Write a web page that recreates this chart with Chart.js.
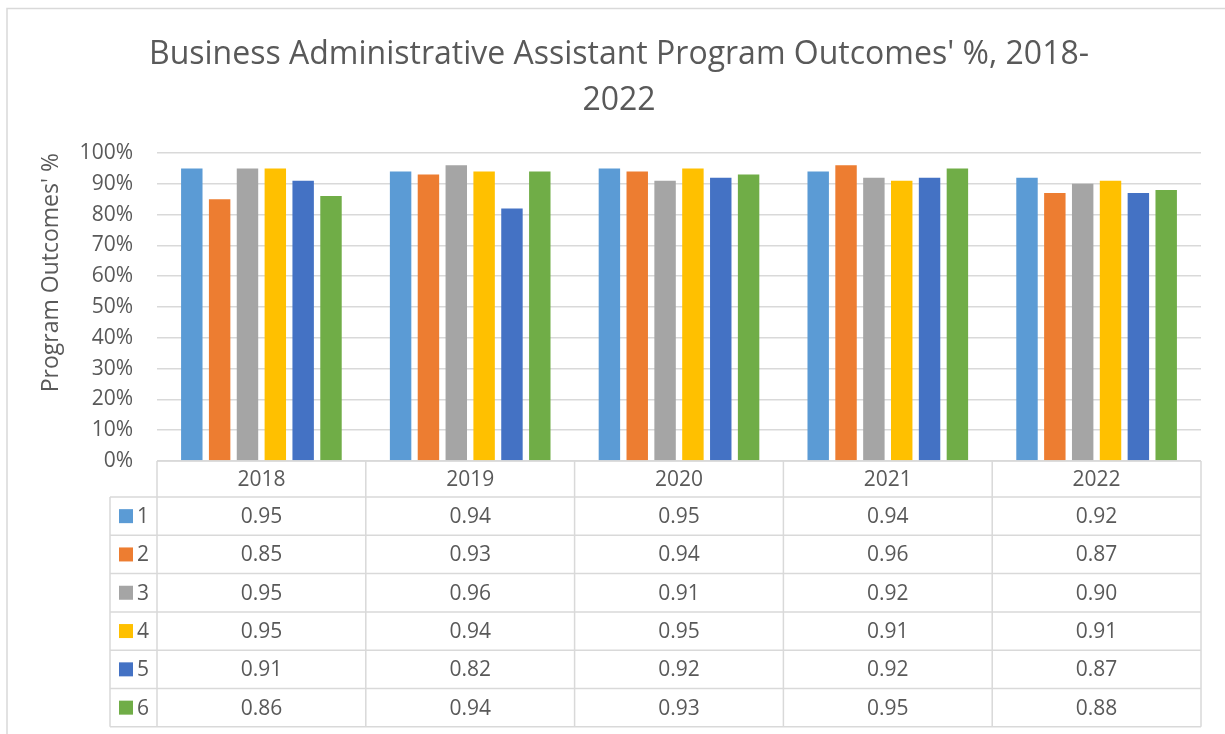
<!DOCTYPE html>
<html>
<head>
<meta charset="utf-8">
<script src="https://cdn.jsdelivr.net/npm/chart.js@4.4.1/dist/chart.umd.min.js"></script>
<style>
  html, body { margin: 0; padding: 0; background: #ffffff; }
  #wrap { width: 1225px; height: 734px; }
</style>
</head>
<body>
<div id="wrap"><canvas id="c" width="1225" height="734"></canvas></div>
<script>
const years = ['2018', '2019', '2020', '2021', '2022'];
const seriesNames = ['1', '2', '3', '4', '5', '6'];
const s1 = [0.95, 0.94, 0.95, 0.94, 0.92];
const s2 = [0.85, 0.93, 0.94, 0.96, 0.87];
const s3 = [0.95, 0.96, 0.91, 0.92, 0.90];
const s4 = [0.95, 0.94, 0.95, 0.91, 0.91];
const s5 = [0.91, 0.82, 0.92, 0.92, 0.87];
const s6 = [0.86, 0.94, 0.93, 0.95, 0.88];
const yTickValues = [0, 0.1, 0.2, 0.3, 0.4, 0.5, 0.6, 0.7, 0.8, 0.9, 1.0];
const titleLines = ["Business Administrative Assistant Program Outcomes' %, 2018-", "2022"];
const yTitle = "Program Outcomes' %";

const colors = ['#5B9BD5', '#ED7D31', '#A5A5A5', '#FFC000', '#4472C4', '#70AD47'];
const allSeries = [s1, s2, s3, s4, s5, s6];
const FONT = "'Open Sans', 'DejaVu Sans', sans-serif";
const TEXT = '#595959';
const LINE = '#D9D9D9';

const tablePlugin = {
  id: 'dataTable',
  afterDraw(chart) {
    const ctx = chart.ctx;
    const xs = chart.scales.x;
    const area = chart.chartArea;
    const n = years.length;
    const colW = (area.right - area.left) / n;
    const top = area.bottom;
    const headerH = 36;
    const rowH = 38.3;
    const legendLeft = 110;
    const tableBottom = top + headerH + rowH * allSeries.length;

    ctx.save();
    // outer chart border
    ctx.strokeStyle = LINE;
    ctx.lineWidth = 1.5;
    ctx.beginPath();
    ctx.moveTo(7, chart.height + 2);
    ctx.lineTo(7, 8.5);
    ctx.lineTo(chart.width + 2, 8.5);
    ctx.stroke();

    // table lines
    ctx.beginPath();
    for (let i = 0; i <= n; i++) {
      const x = area.left + i * colW;
      ctx.moveTo(x, top);
      ctx.lineTo(x, tableBottom);
    }
    ctx.moveTo(legendLeft, top + headerH);
    ctx.lineTo(legendLeft, tableBottom);
    ctx.moveTo(area.left, top);
    ctx.lineTo(area.right, top);
    for (let r = 0; r <= allSeries.length; r++) {
      const y = top + headerH + r * rowH;
      ctx.moveTo(legendLeft, y);
      ctx.lineTo(area.right, y);
    }
    ctx.stroke();

    ctx.fillStyle = TEXT;
    ctx.font = '21px ' + FONT;
    ctx.textAlign = 'center';
    ctx.textBaseline = 'middle';
    for (let i = 0; i < n; i++) {
      const cx = xs.getPixelForTick(i);
      ctx.fillText(years[i], cx, top + headerH / 2 + 1);
    }
    for (let r = 0; r < allSeries.length; r++) {
      const cy = top + headerH + r * rowH + rowH / 2 + 1;
      for (let i = 0; i < n; i++) {
        const cx = xs.getPixelForTick(i);
        ctx.fillStyle = TEXT;
        ctx.textAlign = 'center';
        ctx.fillText(allSeries[r][i].toFixed(2), cx, cy);
      }
      ctx.fillStyle = colors[r];
      ctx.fillRect(119, cy - 8, 14, 14);
      ctx.fillStyle = TEXT;
      ctx.textAlign = 'left';
      ctx.fillText(seriesNames[r], 137, cy);
    }
    ctx.restore();
  }
};

new Chart(document.getElementById('c'), {
  type: 'bar',
  data: {
    labels: years,
    datasets: allSeries.map((s, i) => ({
      label: seriesNames[i],
      data: s,
      backgroundColor: colors[i],
      borderWidth: 0,
      categoryPercentage: 0.8,
      barPercentage: 0.77
    }))
  },
  options: {
    responsive: false,
    animation: false,
    devicePixelRatio: 1,
    layout: { padding: { left: 37, right: 24, top: 0, bottom: 273 } },
    plugins: {
      legend: { display: false },
      tooltip: { enabled: false },
      title: {
        display: true,
        text: titleLines,
        color: TEXT,
        font: { family: FONT, size: 32, weight: 'normal', lineHeight: 1.4375 },
        padding: { top: 32, bottom: 29 }
      }
    },
    scales: {
      x: {
        display: true,
        ticks: { display: false },
        grid: { display: false, drawTicks: false },
        border: { display: false }
      },
      y: {
        min: 0,
        max: 1,
        afterFit(scale) { scale.width = 120; },
        afterBuildTicks(scale) { scale.ticks = yTickValues.map(v => ({ value: v })); },
        ticks: {
          color: TEXT,
          padding: 24,
          autoSkip: false,
          font: { family: FONT, size: 21 },
          callback: v => Math.round(v * 100) + '%'
        },
        grid: { color: LINE, lineWidth: 1.5, drawTicks: false },
        border: { display: false },
        title: {
          display: true,
          text: yTitle,
          align: 'end',
          color: TEXT,
          font: { family: FONT, size: 23, lineHeight: 1.2 },
          padding: { top: 1, bottom: 0 }
        }
      }
    }
  },
  plugins: [tablePlugin]
});
</script>
</body>
</html>
